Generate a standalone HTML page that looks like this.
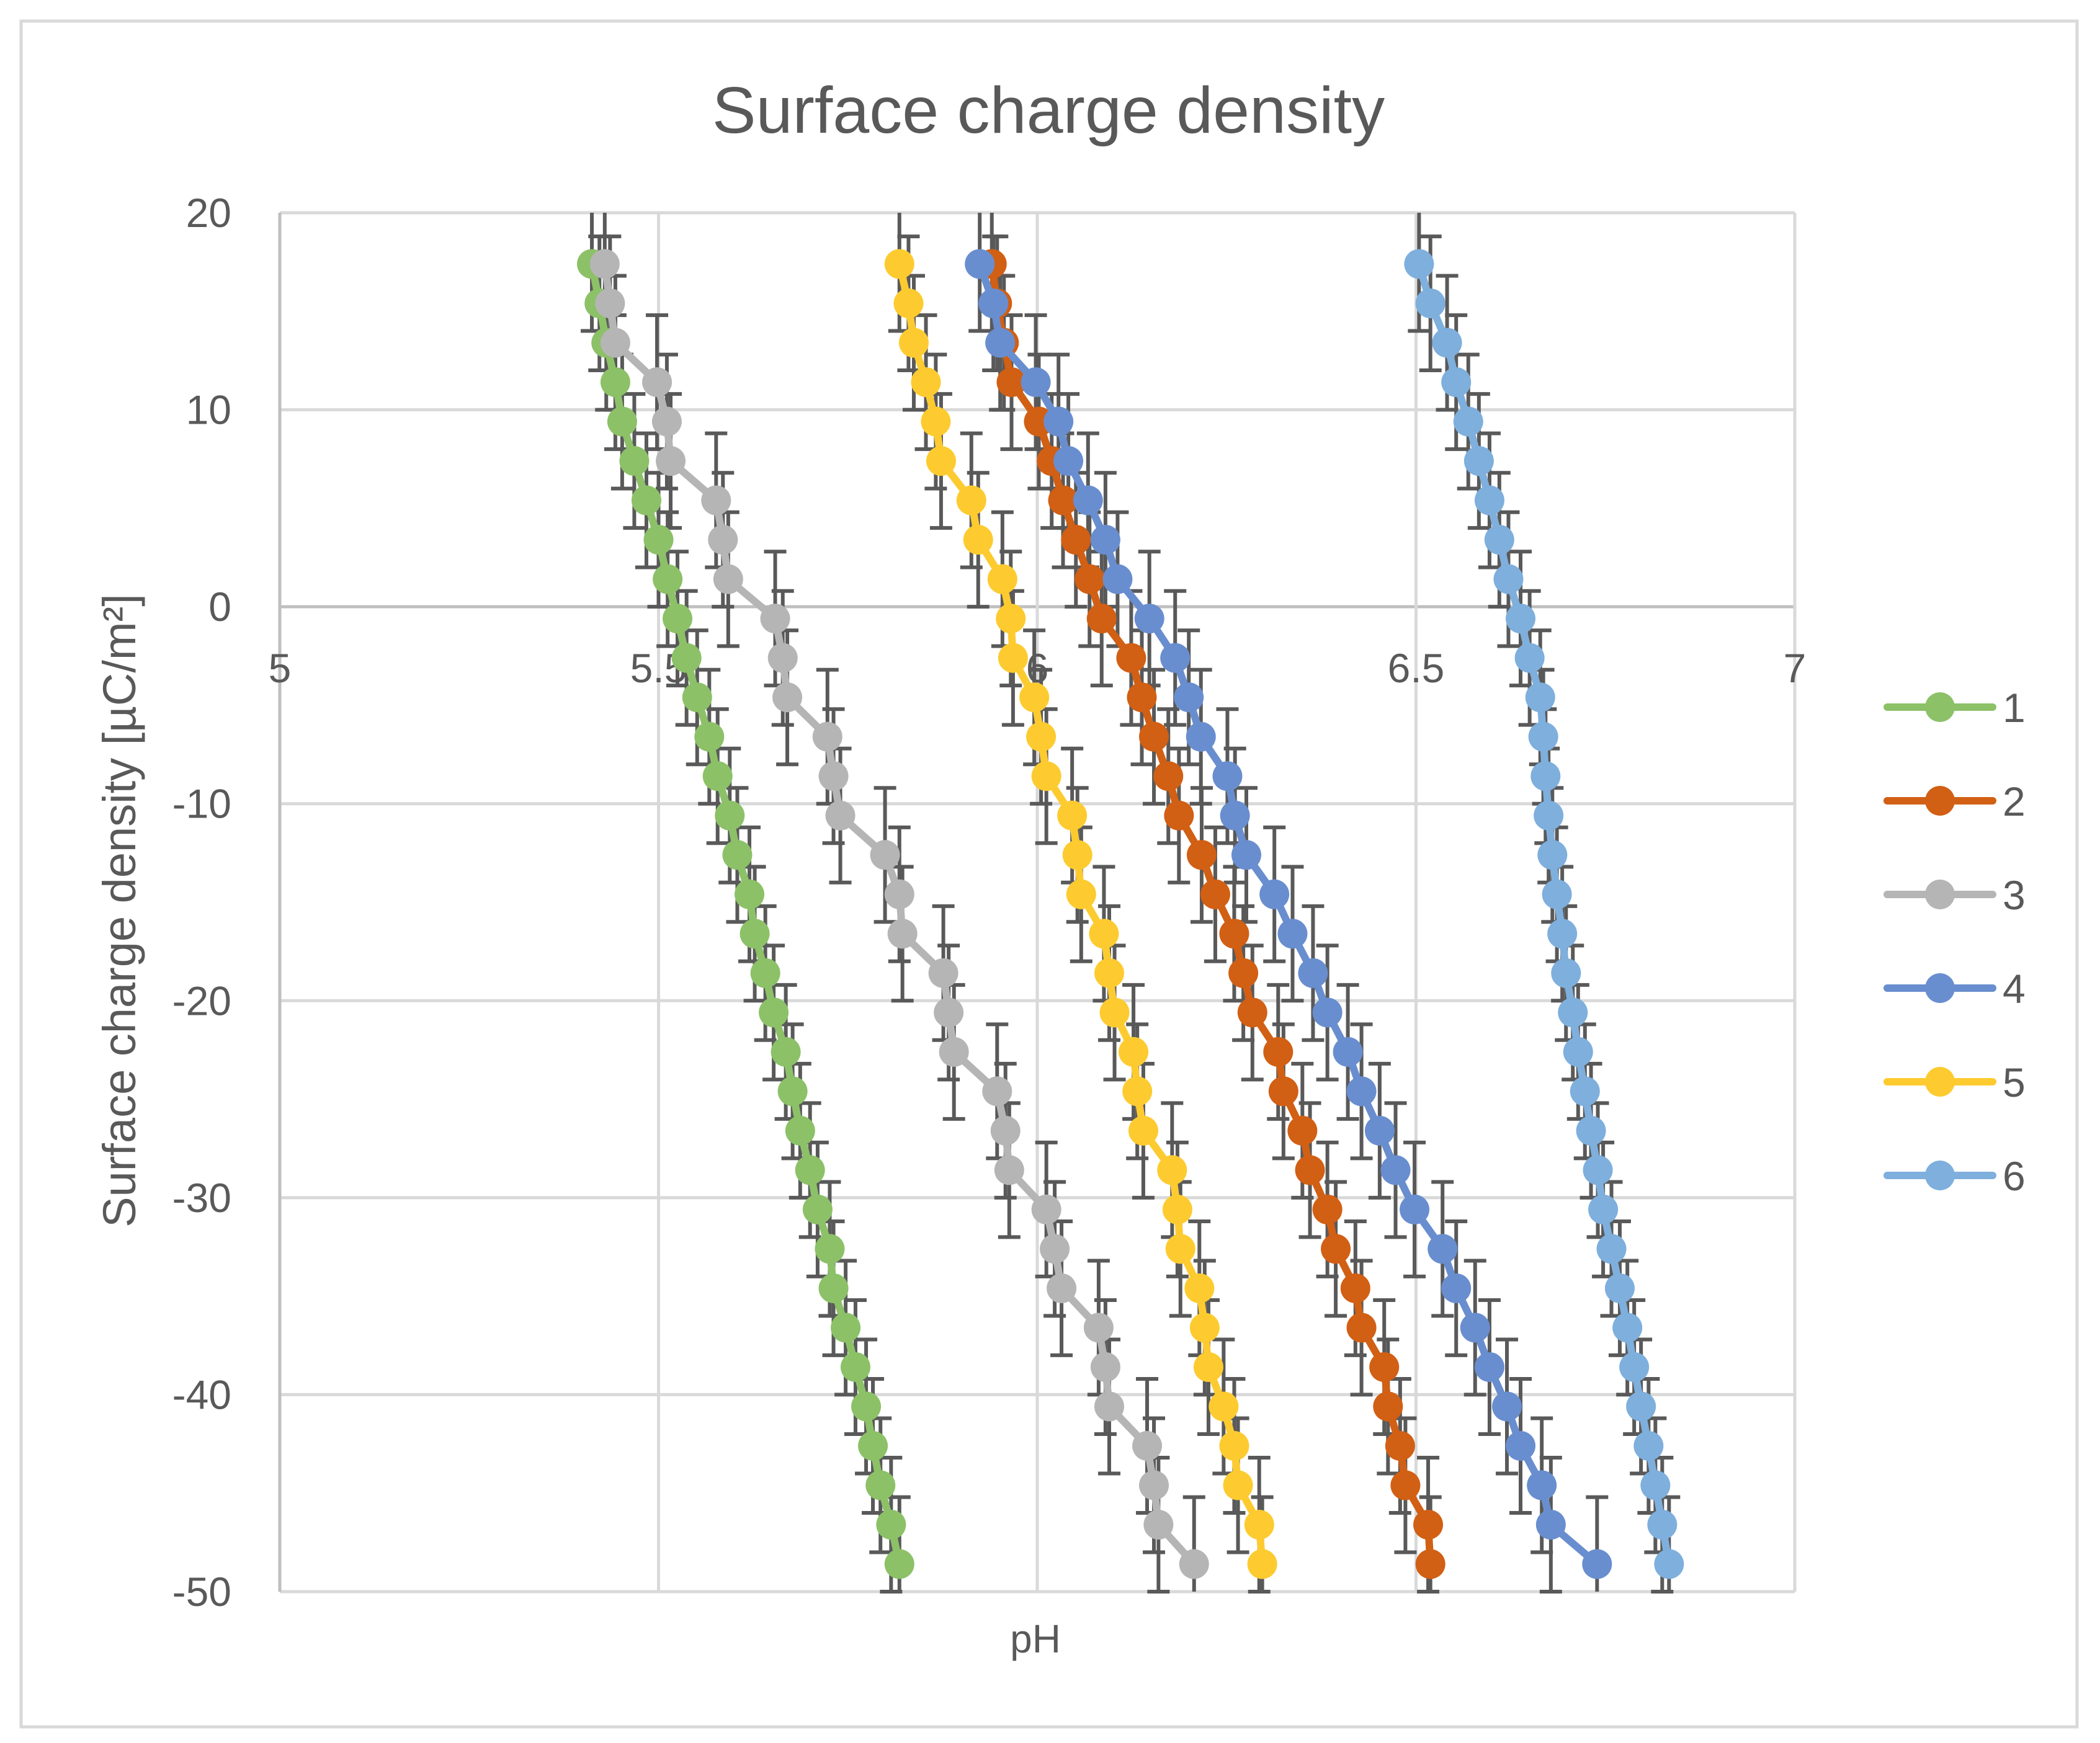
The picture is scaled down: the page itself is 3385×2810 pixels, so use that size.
<!DOCTYPE html>
<html><head><meta charset="utf-8"><style>
html,body{margin:0;padding:0;background:#fff;}
svg{display:block;font-family:"Liberation Sans",sans-serif;}
</style></head><body>
<svg id="chart" width="3385" height="2810" viewBox="0 0 3385 2810">
<rect x="34" y="34" width="3314" height="2750" fill="#fff" stroke="#d9d9d9" stroke-width="5"/>
<text x="1690" y="214" font-size="106" fill="#595959" text-anchor="middle">Surface charge density</text>
<g id="grid"></g>
<g id="ticks"></g>
<text transform="translate(218,1468) rotate(-90)" font-size="74" fill="#595959" text-anchor="middle">Surface charge density [µC/m²]</text>
<text x="1669" y="2664" font-size="64" fill="#595959" text-anchor="middle">pH</text>
<g id="errs"></g>
<g id="series"></g>
<g id="legend"></g>
</svg>
<script>
const yVals=[17.4,15.4,13.4,11.4,9.4,7.4,5.4,3.4,1.4,-0.6,-2.6,-4.6,-6.6,-8.6,-10.6,-12.6,-14.6,-16.6,-18.6,-20.6,-22.6,-24.6,-26.6,-28.6,-30.6,-32.6,-34.6,-36.6,-38.6,-40.6,-42.6,-44.6,-46.6,-48.6];
const s1=[5.412,5.422,5.431,5.443,5.452,5.468,5.484,5.5,5.512,5.525,5.537,5.551,5.567,5.578,5.594,5.604,5.620,5.627,5.641,5.652,5.668,5.677,5.687,5.700,5.710,5.726,5.731,5.747,5.760,5.774,5.783,5.793,5.807,5.818];
const s2=[5.940,5.947,5.956,5.966,6.002,6.019,6.034,6.051,6.069,6.085,6.124,6.138,6.154,6.173,6.187,6.217,6.235,6.260,6.272,6.284,6.318,6.325,6.350,6.360,6.383,6.394,6.420,6.428,6.458,6.463,6.479,6.486,6.516,6.519];
const s3=[5.429,5.436,5.443,5.498,5.511,5.516,5.576,5.585,5.592,5.654,5.664,5.670,5.723,5.731,5.740,5.799,5.818,5.822,5.876,5.883,5.890,5.947,5.958,5.963,6.012,6.023,6.032,6.081,6.090,6.095,6.145,6.154,6.160,6.207];
const s4=[5.924,5.942,5.951,5.998,6.028,6.041,6.067,6.090,6.106,6.148,6.182,6.200,6.216,6.251,6.261,6.276,6.313,6.337,6.364,6.383,6.410,6.428,6.452,6.473,6.498,6.535,6.553,6.578,6.597,6.620,6.638,6.666,6.678,6.739];
const s5=[5.818,5.830,5.837,5.853,5.866,5.873,5.913,5.922,5.954,5.965,5.968,5.996,6.005,6.012,6.046,6.053,6.058,6.088,6.095,6.102,6.127,6.132,6.140,6.178,6.185,6.189,6.214,6.221,6.226,6.246,6.260,6.265,6.293,6.297];
const s6=[6.504,6.519,6.541,6.553,6.569,6.583,6.597,6.610,6.622,6.638,6.650,6.664,6.668,6.671,6.675,6.680,6.686,6.693,6.698,6.707,6.714,6.723,6.731,6.740,6.747,6.758,6.769,6.779,6.788,6.797,6.807,6.816,6.825,6.834];
const errVal=3.4;
const seriesNames=["1","2","3","4","5","6"];
const xTicks=[5,5.5,6,6.5,7];
const xTickLabels=["5","5.5","6","6.5","7"];
const yTicks=[20,10,0,-10,-20,-30,-40,-50];
const yTickLabels=["20","10","0","-10","-20","-30","-40","-50"];

const NS="http://www.w3.org/2000/svg";
const L=451,R=2893,T=343,B=2566,xMin=5,xMax=7,yMin=-50,yMax=20;
const X=v=>L+(v-xMin)/(xMax-xMin)*(R-L);
const Y=v=>T+(yMax-v)/(yMax-yMin)*(B-T);
const colors=["#8cc168","#d15f14","#b5b5b5","#698ecf","#fdcb30","#7eafdd"];
const data=[s1,s2,s3,s4,s5,s6];
function mk(tag,attrs,parent){const e=document.createElementNS(NS,tag);for(const k in attrs)e.setAttribute(k,attrs[k]);parent.appendChild(e);return e;}
const grid=document.getElementById('grid'),ticks=document.getElementById('ticks');
yTicks.forEach((v,i)=>{
  const ln=mk('line',{x1:L,x2:R,y1:Y(v),y2:Y(v),stroke:v===0?'#bfbfbf':'#d9d9d9','stroke-width':5},grid);
  
  
  const t=mk('text',{x:L-78,y:Y(v)+23,'font-size':66,fill:'#595959','text-anchor':'end'},ticks);
  t.textContent=yTickLabels[i];
  
  
});
xTicks.forEach((v,i)=>{
  const ln=mk('line',{x1:X(v),x2:X(v),y1:T,y2:B,stroke:i===0?'#bfbfbf':'#d9d9d9','stroke-width':5},grid);
  
  
  const t=mk('text',{x:X(v),y:Y(0)+122,'font-size':66,fill:'#595959','text-anchor':'middle'},ticks);
  t.textContent=xTickLabels[i];
  
  
});
const errs=document.getElementById('errs'),ser=document.getElementById('series');
const clip=v=>Math.max(T,Math.min(B,v));
data.forEach((s,si)=>{
  s.forEach((x,i)=>{
    const cx=X(x),top=Y(yVals[i]+errVal),bot=Y(yVals[i]-errVal);
    const g=mk('g',{stroke:'#595959','stroke-width':6},errs);
    
    
    mk('line',{x1:cx,x2:cx,y1:clip(top),y2:clip(bot)},g);
    if(top>=T) mk('line',{x1:cx-18,x2:cx+18,y1:top,y2:top},g);
    if(bot<=B) mk('line',{x1:cx-18,x2:cx+18,y1:bot,y2:bot},g);
  });
});
data.forEach((s,si)=>{
  const g=mk('g',{},ser);
  
  
  const pl=mk('polyline',{points:s.map((x,i)=>X(x)+','+Y(yVals[i])).join(' '),fill:'none',stroke:colors[si],'stroke-width':12,'stroke-linejoin':'round'},g);
  
  
  s.forEach((x,i)=>{
    const c=mk('circle',{cx:X(x),cy:Y(yVals[i]),r:24,fill:colors[si]},g);
    
    
  });
});
const leg=document.getElementById('legend');
seriesNames.forEach((n,i)=>{
  const y=1140+i*151;
  const g=mk('g',{},leg);
  
  
  mk('line',{x1:3042,x2:3212,y1:y,y2:y,stroke:colors[i],'stroke-width':12,'stroke-linecap':'round'},g);
  mk('circle',{cx:3127,cy:y,r:24,fill:colors[i]},g);
  const t=mk('text',{x:3228,y:y+24,'font-size':66,fill:'#595959'},g);
  t.textContent=n;
});
</script>
</body></html>
